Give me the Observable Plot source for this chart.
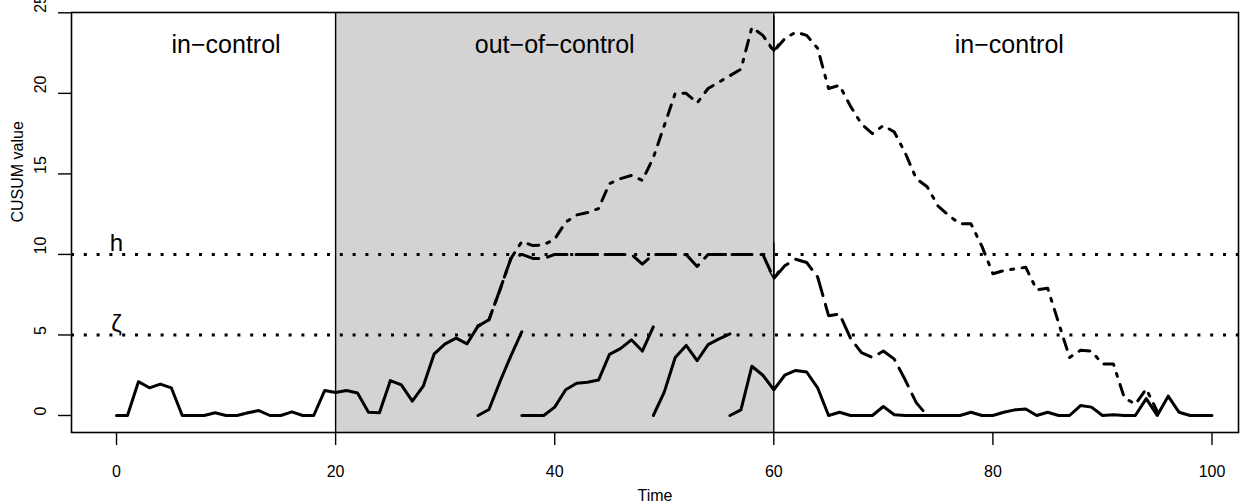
<!DOCTYPE html>
<html><head><meta charset="utf-8">
<script src="https://cdn.jsdelivr.net/npm/d3@7"></script>
<script src="https://cdn.jsdelivr.net/npm/@observablehq/plot@0.6"></script>
<style>
body{margin:0;background:#fff}
svg{font-family:"Liberation Sans",Arial,Helvetica,sans-serif}
</style>
</head><body><div id="chart"></div>
<script>
// ---- data ----
const xTicks = [0, 20, 40, 60, 80, 100];
const yTicks = [0, 5, 10, 15, 20, 25];
const phaseStart = [0, 20, 60];
const phaseEnd = [20, 60, 100];
const phaseLabels = ["in\u2212control", "out\u2212of\u2212control", "in\u2212control"];
const phaseLabelX = [10, 40, 81.5];
const phaseLabelY = 23;
const thresholds = [10, 5];
const thresholdLabels = ["h", "\u03b6"];

// solid (restarting) CUSUM, segments with their start times
const segStart = [0, 33, 37, 49, 56];
const solid1 = [0, 0, 2.1, 1.72, 1.95, 1.72, 0, 0, 0, 0.17, 0, 0, 0.17, 0.31, 0, 0, 0.23, 0, 0, 1.55,
  1.43, 1.55, 1.4, 0.2, 0.17, 2.17, 1.9, 0.89, 1.82, 3.83, 4.45, 4.8, 4.45, 5.55];
const solid2 = [0, 0.37, 2.1, 3.7, 5.2];
const solid3 = [0, 0, 0, 0.52, 1.6, 2.0, 2.07, 2.2, 3.8, 4.15, 4.7, 4.0, 5.5];
const solid4 = [0, 1.45, 3.6, 4.35, 3.4, 4.4, 4.76, 5.07];
const solid5 = [0, 0.35, 3.06, 2.5, 1.6, 2.5, 2.8, 2.7, 1.72, 0, 0.2, 0, 0, 0, 0.56, 0.05, 0, 0, 0, 0,
  0, 0, 0.2, 0, 0, 0.2, 0.35, 0.4, 0, 0.2, 0, 0, 0.62, 0.52, 0, 0.05, 0, 0, 1.05, 0, 1.2, 0.2, 0, 0, 0];

// dot-dash (uncapped) CUSUM from t = 33
const dotdashStart = 33;
const dotdash = [5.55, 5.95, 7.8, 9.75, 10.8, 10.55, 10.6, 10.95, 12.0, 12.45, 12.6, 12.85, 14.4, 14.7, 14.9,
  14.6, 16.0, 18.0, 20.0, 20.0, 19.4, 20.3, 20.7, 21.1, 21.5, 24.1, 23.6, 22.6, 23.4, 23.8, 23.6, 22.8,
  20.3, 20.5, 19.2, 18.1, 17.5, 18.0, 17.6, 16.3, 14.7, 14.2, 13.0, 12.4, 11.9, 11.9, 10.5, 8.8, 9.0,
  9.1, 9.2, 7.8, 7.9, 5.75, 3.6, 4.05, 4.0, 3.2, 3.2, 1.1, 0.7, 1.65, 0.25];

// dashed (capped at h) CUSUM from t = 33
const dashedStart = 33;
const dashed = [5.55, 5.95, 7.8, 9.75, 10, 9.75, 9.75, 10, 10, 10, 10, 10, 10, 10, 10, 9.4, 10, 10, 10,
  10, 9.25, 10, 10, 10, 10, 10, 10, 8.5, 9.3, 9.7, 9.5, 8.6, 6.2, 6.3, 4.8, 3.9, 3.6, 4.0, 3.5, 2.2, 0.8, 0];

const arrowTime = 60;

// ---- tables built from the arrays ----
const solidSegs = [solid1, solid2, solid3, solid4, solid5];
const solidRows = solidSegs.flatMap((vals, k) => vals.map((v, i) => ({t: segStart[k] + i, v, seg: k})));
const dotdashRows = dotdash.map((v, i) => ({t: dotdashStart + i, v}));
const dashedRows = dashed.map((v, i) => ({t: dashedStart + i, v}));
const phases = phaseStart.map((s, i) => ({s, e: phaseEnd[i], label: phaseLabels[i], lx: phaseLabelX[i]}));
const arrows = [dotdash[arrowTime - dotdashStart], dashed[arrowTime - dashedStart]].map(v => ({t: arrowTime, v}));
const thrRows = thresholds.map((y, i) => ({y, label: thresholdLabels[i]}));

const font = "'Liberation Sans',Arial,Helvetica,sans-serif";

const chart = Plot.plot({
  width: 1254,
  height: 504,
  marginLeft: 71,
  marginRight: 16,
  marginTop: 12,
  marginBottom: 72,
  x: {domain: [-4.11, 102.42]},
  y: {domain: [-1.055, 25.02]},
  style: {fontFamily: font, fontSize: "16px", background: "white", color: "black", overflow: "visible"},
  marks: [
    Plot.rect(phases.filter((d, i) => i === 1), {x1: "s", x2: "e", fill: "#d3d3d3"}),
    Plot.ruleY(thrRows, {y: "y", stroke: "black", strokeWidth: 3, strokeDasharray: "3 9.8"}),
    Plot.ruleX([phaseEnd[0], phaseEnd[1]], {stroke: "black", strokeWidth: 1.4}),
    Plot.line(solidRows, {x: "t", y: "v", z: "seg", stroke: "black", strokeWidth: 3, strokeLinejoin: "round"}),
    Plot.line(dashedRows, {x: "t", y: "v", stroke: "black", strokeWidth: 3, strokeDasharray: "20 9", strokeLinejoin: "round"}),
    Plot.line(dotdashRows, {x: "t", y: "v", stroke: "black", strokeWidth: 3, strokeDasharray: "3 8.5 11 8.5", strokeLinejoin: "round"}),
    Plot.arrow(arrows, {x1: "t", x2: "t", y1: d => d.v + 2.2, y2: "v", stroke: "black", strokeWidth: 1.6, headLength: 8}),
    Plot.text(phases, {x: "lx", y: () => phaseLabelY, text: "label", fontSize: 25, fill: "black"}),
    Plot.text(thrRows, {x: () => 0, y: "y", text: "label", fontSize: 24, lineAnchor: "bottom", dy: -3, fill: "black"}),
    Plot.frame({stroke: "black", strokeWidth: 1.6}),
    Plot.axisX({ticks: xTicks, tickSize: 13, tickPadding: 20, strokeWidth: 1.4, fontSize: 16, label: null, tickFormat: d => String(d)}),
    Plot.axisY({ticks: yTicks, tickSize: 13, strokeWidth: 1.4, label: null, tickFormat: () => ""}),
    Plot.text(yTicks, {y: d => d, text: d => String(d), frameAnchor: "left", dx: -31, rotate: -90, fontSize: 16, fill: "black"}),
    Plot.text(["Time"], {text: d => d, frameAnchor: "bottom", lineAnchor: "middle", dy: 63, fontSize: 16, fill: "black"}),
    Plot.text(["CUSUM value"], {text: d => d, frameAnchor: "left", dx: -54, rotate: -90, fontSize: 16, fill: "black"})
  ]
});
document.getElementById("chart").appendChild(chart);
</script>
</body></html>
